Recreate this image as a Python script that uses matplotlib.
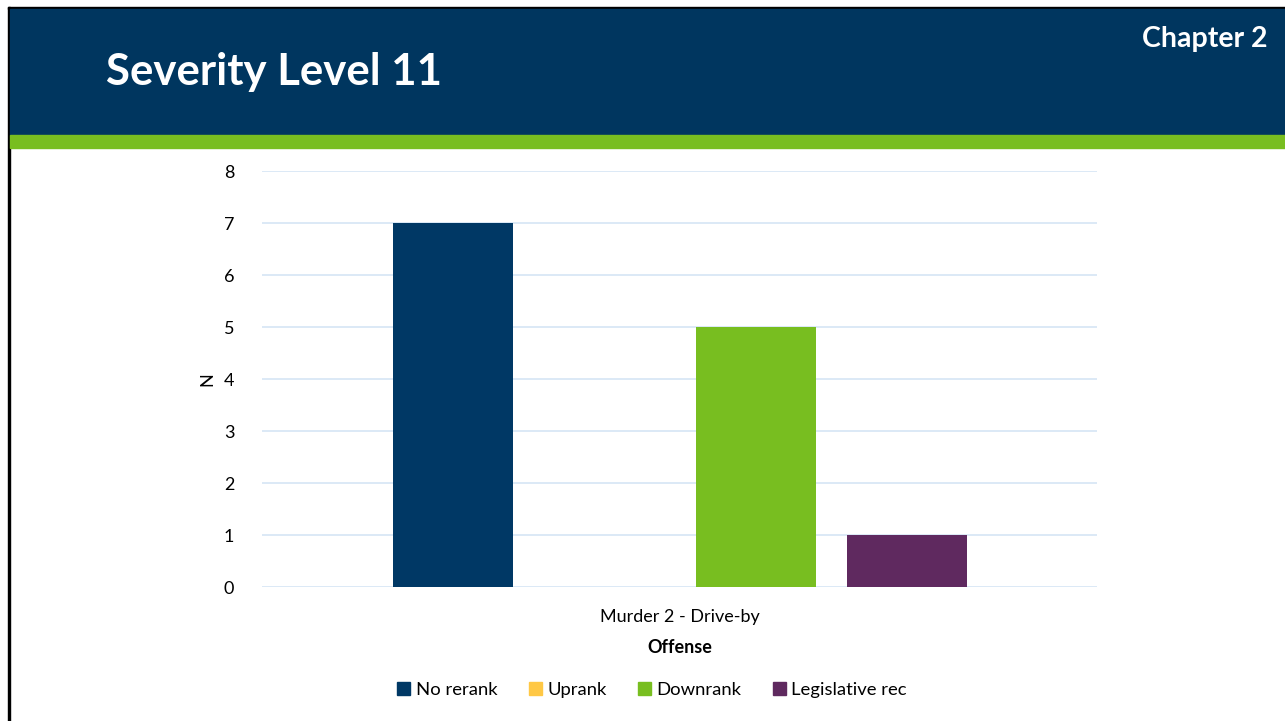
import numpy as np
import matplotlib.pyplot as plt
from matplotlib.patches import Rectangle

series = ['No rerank', 'Uprank', 'Downrank', 'Legislative rec']
values = [7, 0, 5, 1]
colors = ['#003865', '#FFC845', '#78BE20', '#5F295F']
category = 'Murder 2 - Drive-by'
yticks = [0, 1, 2, 3, 4, 5, 6, 7, 8]

plt.rcParams['font.family'] = ['Lato', 'DejaVu Sans']

W, H = 1285, 721
fig = plt.figure(figsize=(W/100, H/100), dpi=100)

def px_rect(x0, y0, x1, y1, color):
    # rectangle in pixel coords (top-left origin)
    fig.patches.append(Rectangle((x0/W, 1-y1/H), (x1-x0)/W, (y1-y0)/H,
                                 transform=fig.transFigure, color=color, zorder=0))

px_rect(8, 7, W, 9, 'black')
px_rect(8, 7, 10, H, 'black')
px_rect(10, 9, W, 135, '#00365F')
px_rect(10, 135, W, 148, '#78BE20')

fig.text(106/W, 1-72/H, 'Severity Level 11', color='white', fontsize=31.5,
         fontweight='bold', va='center', ha='left')
fig.text(1268/W, 1-39/H, 'Chapter 2', color='white', fontsize=20.5,
         fontweight='bold', va='center', ha='right')

ax = fig.add_axes([262/W, 1-587/H, (1097-262)/W, (587-171)/H])
x = np.arange(len(series))
ax.bar(x, values, width=0.793, color=colors, zorder=3)
ax.set_xlim(-1.262, 3 + 1.256)
ax.set_ylim(0, 8)
ax.set_yticks(yticks)
ax.yaxis.grid(True, color='#D5E5F5', linewidth=1.2, zorder=0)
for s in ax.spines.values():
    s.set_visible(False)
ax.tick_params(axis='y', length=0, labelsize=13, pad=20)
ax.set_xticks([1.5])
ax.set_xticklabels([category], fontsize=13)
ax.tick_params(axis='x', length=0, pad=16)
ax.set_xlabel('Offense', fontsize=13, fontweight='bold', labelpad=10)
ax.set_ylabel('N', fontsize=13, labelpad=6)

handles = [Rectangle((0, 0), 1, 1, color=c) for c in colors]
fig.legend(handles, series, loc='center', bbox_to_anchor=(652/W, 1-690/H),
           ncol=4, frameon=False, fontsize=13.3, handlelength=0.7, handleheight=0.7,
           handletextpad=0.3, columnspacing=1.7)

fig.savefig('out.png', dpi=100)
